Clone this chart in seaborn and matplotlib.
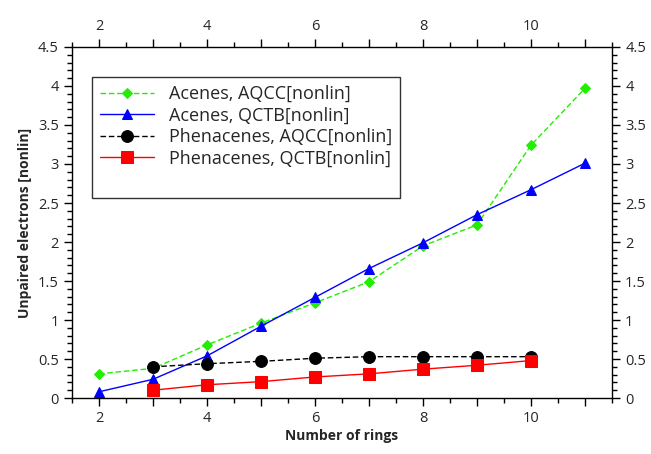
import numpy as np
import pandas as pd
import matplotlib
matplotlib.use('Agg')
import matplotlib.pyplot as plt
import seaborn as sns
from matplotlib.lines import Line2D
from matplotlib.ticker import MultipleLocator, FuncFormatter

# Values
rings_acenes = [2, 3, 4, 5, 6, 7, 8, 9, 10, 11]
acenes_aqcc = [0.31, 0.38, 0.68, 0.96, 1.22, 1.49, 1.95, 2.22, 3.24, 3.97]
acenes_qctb = [0.08, 0.24, 0.54, 0.92, 1.29, 1.66, 1.99, 2.35, 2.67, 3.01]
rings_phen = [3, 4, 5, 6, 7, 8, 9, 10]
phen_aqcc = [0.40, 0.44, 0.47, 0.51, 0.53, 0.53, 0.53, 0.53]
phen_qctb = [0.10, 0.17, 0.21, 0.27, 0.31, 0.37, 0.42, 0.48]

labels = ["Acenes, AQCC[nonlin]", "Acenes, QCTB[nonlin]",
          "Phenacenes, AQCC[nonlin]", "Phenacenes, QCTB[nonlin]"]

sns.set_style('ticks')
plt.rcParams['font.family'] = ['Open Sans', 'DejaVu Sans']

fig = plt.figure(figsize=(6.51, 4.54), dpi=100)
ax = fig.add_axes([0.1106, 0.1233, 0.8294, 0.7732])

series = [
    (rings_acenes, acenes_aqcc, labels[0], '#22ee00', 'D', 5.5, (4, 2)),
    (rings_acenes, acenes_qctb, labels[1], '#0000ff', '^', 7, None),
    (rings_phen, phen_aqcc, labels[2], '#000000', 'o', 8.5, (4, 2)),
    (rings_phen, phen_qctb, labels[3], '#ff0000', 's', 8, None),
]

for x, y, lab, col, mk, ms, dash in series:
    df = pd.DataFrame({'rings': x, 'val': y})
    sns.lineplot(data=df, x='rings', y='val', ax=ax, color=col, marker=mk,
                 markersize=ms, markeredgecolor=col, linewidth=1.0, label=lab)
    if dash is not None:
        ax.lines[-1].set_dashes(dash)

ax.set_xlim(1.5, 11.5)
ax.set_ylim(0, 4.5)
ax.xaxis.set_major_locator(MultipleLocator(1))
ax.xaxis.set_minor_locator(MultipleLocator(0.5))
ax.xaxis.set_major_formatter(FuncFormatter(lambda v, p: f"{int(v)}" if int(round(v)) % 2 == 0 else ""))
ax.yaxis.set_major_locator(MultipleLocator(0.5))
ax.yaxis.set_minor_locator(MultipleLocator(0.1))
ax.yaxis.set_major_formatter(FuncFormatter(lambda v, p: f"{v:g}"))

ax.tick_params(which='both', direction='out', top=True, right=True,
               labeltop=True, labelright=True, labelsize=10.5, width=1, color='black')
ax.tick_params(which='major', length=6)
ax.tick_params(which='minor', length=3.5)
for s in ax.spines.values():
    s.set_color('black')
    s.set_linewidth(1.0)

ax.set_xlabel('Number of rings', fontsize=10, fontweight='bold', labelpad=2)
ax.set_ylabel('Unpaired electrons [nonlin]', fontsize=10, fontweight='bold', labelpad=4)

# legend box in the original has an empty slot under the last entry
handles, labs = ax.get_legend_handles_labels()
handles.append(Line2D([], [], linestyle='none'))
labs.append(' ')
leg = ax.legend(handles, labs, loc='upper left', bbox_to_anchor=(0.037, 0.915),
                fontsize=13, frameon=True, fancybox=False, borderpad=0.45,
                handlelength=3, labelspacing=0.2, borderaxespad=0)
leg.get_frame().set_edgecolor('black')
leg.get_frame().set_linewidth(1.0)

fig.savefig('out.png', dpi=100)
